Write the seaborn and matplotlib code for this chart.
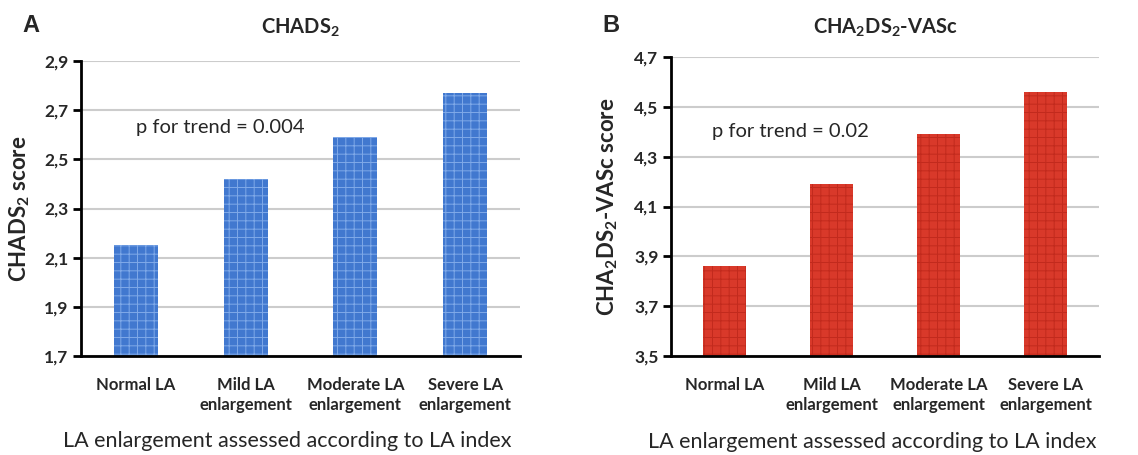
import pandas as pd
import matplotlib
matplotlib.use('Agg')
import matplotlib.pyplot as plt
import seaborn as sns

# Data
categories = ['Normal LA', 'Mild LA\nenlargement', 'Moderate LA\nenlargement', 'Severe LA\nenlargement']
chads2 = [2.15, 2.42, 2.59, 2.77]
cha2ds2_vasc = [3.86, 4.19, 4.39, 4.56]
ticks_a = [1.7, 1.9, 2.1, 2.3, 2.5, 2.7, 2.9]
ticks_b = [3.5, 3.7, 3.9, 4.1, 4.3, 4.5, 4.7]
p_a = 'p for trend = 0.004'
p_b = 'p for trend = 0.02'
xlabel = 'LA enlargement assessed according to LA index'

sns.set_theme(style='white')
plt.rcParams['font.family'] = ['Lato', 'DejaVu Sans']
plt.rcParams['mathtext.fontset'] = 'custom'
plt.rcParams['mathtext.rm'] = 'Lato:bold'
plt.rcParams['mathtext.it'] = 'Lato:bold:italic'
plt.rcParams['mathtext.bf'] = 'Lato:bold'
plt.rcParams['hatch.linewidth'] = 0.7

fig = plt.figure(figsize=(11.38, 4.55), dpi=100)
ax_a = fig.add_axes([81 / 1138, 1 - 356 / 455, 439 / 1138, 295 / 455])
ax_b = fig.add_axes([671 / 1138, 1 - 356 / 455, 428 / 1138, 299 / 455])

panels = [
    (ax_a, chads2, ticks_a, '#4178cf', '#7fa9e8', r'CHADS$_2$ score', p_a, (0.0, 2.63), -0.112),
    (ax_b, cha2ds2_vasc, ticks_b, '#d9392a', '#c22a1d', r'CHA$_2$DS$_2$-VASc score', p_b, (-0.12, 4.40), -0.119),
]

for ax, vals, yt, face, hatch_col, ylab, ptxt, ppos, ylx in panels:
    df = pd.DataFrame({'group': categories, 'score': vals})
    sns.barplot(data=df, x='group', y='score', color=face, saturation=1,
                width=0.4, ax=ax, zorder=2)
    for bar in ax.patches:
        bar.set_hatch('++')
        bar.set_edgecolor(hatch_col)
        bar.set_linewidth(0)
    ax.set_ylim(yt[0], yt[-1])
    ax.set_xlim(-0.5, len(categories) - 0.5)
    ax.set_yticks(yt)
    ax.set_yticklabels([f'{t:.1f}'.replace('.', ',') for t in yt], fontsize=12.5, fontweight='bold')
    ax.set_xticks(range(len(categories)))
    ax.set_xticklabels(categories, fontsize=12, fontweight='bold', linespacing=1.3)
    ax.set_xticks([i - 0.5 for i in range(len(categories) + 1)], minor=True)
    ax.tick_params(axis='x', which='major', length=0, pad=15)
    ax.tick_params(axis='x', which='minor', length=6, width=2, color='black', direction='out')
    ax.tick_params(axis='y', length=6, width=2, color='black', direction='out', left=True, pad=3)
    ax.grid(axis='y', color='#cccccc', linewidth=1.5, zorder=0)
    ax.set_axisbelow(True)
    for s in ['top', 'right']:
        ax.spines[s].set_visible(False)
    for s in ['left', 'bottom']:
        ax.spines[s].set_color('black')
        ax.spines[s].set_linewidth(2)
    ax.set_ylabel(ylab, fontsize=16, fontweight='bold')
    ax.yaxis.set_label_coords(ylx, 0.5)
    ax.set_xlabel(xlabel, fontsize=15.5)
    ax.xaxis.set_label_coords(0.47, -0.255)
    ax.text(ppos[0], ppos[1], ptxt, fontsize=14.5, va='center', ha='left')

fig.text(22 / 1138, 1 - 25 / 455, 'A', fontsize=17, fontweight='bold',
         family='Liberation Sans', va='center', ha='left')
fig.text(602 / 1138, 1 - 25 / 455, 'B', fontsize=17, fontweight='bold',
         family='Liberation Sans', va='center', ha='left')
fig.text(300 / 1138, 1 - 28 / 455, r'CHADS$_2$', fontsize=14.5, fontweight='bold',
         va='center', ha='center')
fig.text(885 / 1138, 1 - 28 / 455, r'CHA$_2$DS$_2$-VASc', fontsize=14.5, fontweight='bold',
         va='center', ha='center')

fig.savefig('out.png', dpi=100)
